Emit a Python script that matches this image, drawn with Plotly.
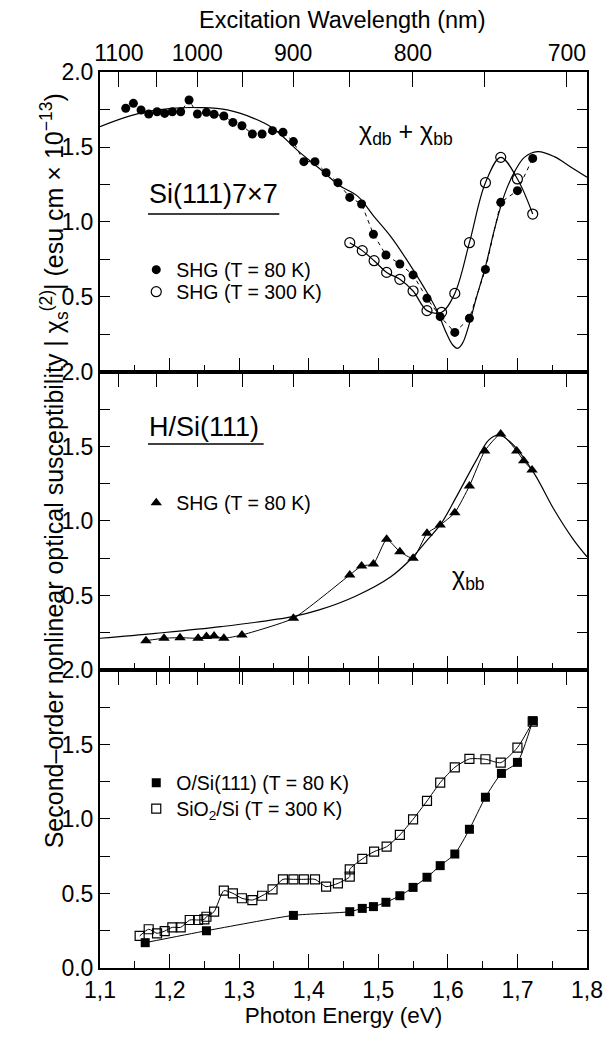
import plotly.graph_objects as go

FONT = "Liberation Sans, Arial, sans-serif"

# ---------------- data: top panel, Si(111)7x7 ----------------
si77_80K_E = [1.137, 1.148, 1.159, 1.170, 1.182, 1.193, 1.204, 1.216, 1.228, 1.240,
              1.253, 1.264, 1.278, 1.291, 1.304, 1.319, 1.333, 1.348, 1.363, 1.378,
              1.393, 1.409, 1.425, 1.442, 1.459, 1.476, 1.493, 1.511, 1.531, 1.550,
              1.570, 1.589, 1.610, 1.631, 1.654, 1.676, 1.700, 1.722]
si77_80K_val = [1.758, 1.791, 1.747, 1.720, 1.735, 1.724, 1.735, 1.735, 1.813, 1.720,
                1.731, 1.718, 1.707, 1.664, 1.642, 1.587, 1.587, 1.609, 1.598, 1.536,
                1.402, 1.402, 1.329, 1.262, 1.164, 1.120, 0.918, 0.780, 0.720, 0.647,
                0.491, 0.369, 0.264, 0.358, 0.684, 1.131, 1.209, 1.424]
si77_300K_E = [1.459, 1.477, 1.494, 1.512, 1.531, 1.550, 1.570, 1.591, 1.610, 1.631,
               1.654, 1.676, 1.700, 1.722]
si77_300K_val = [0.862, 0.809, 0.742, 0.664, 0.618, 0.540, 0.409, 0.398, 0.524, 0.862,
                 1.262, 1.431, 1.287, 1.053]
model_dbbb_E = [1.100, 1.156, 1.203, 1.246, 1.283, 1.321, 1.349, 1.386, 1.415, 1.443,
                1.471, 1.494, 1.518, 1.541, 1.565, 1.584, 1.598, 1.607, 1.614, 1.621,
                1.631, 1.640, 1.654, 1.668, 1.682, 1.696, 1.710, 1.729, 1.753, 1.776, 1.800]
model_dbbb_val = [1.636, 1.724, 1.758, 1.762, 1.747, 1.691, 1.624, 1.469, 1.358, 1.247,
                  1.169, 1.036, 0.902, 0.747, 0.569, 0.413, 0.258, 0.180, 0.158, 0.191,
                  0.324, 0.480, 0.702, 0.969, 1.191, 1.336, 1.431, 1.469, 1.436, 1.369, 1.298]

# ---------------- data: middle panel, H/Si(111) ----------------
hsi_80K_E = [1.166, 1.192, 1.215, 1.241, 1.253, 1.264, 1.278, 1.304, 1.378, 1.459,
             1.476, 1.493, 1.512, 1.531, 1.550, 1.570, 1.589, 1.610, 1.631, 1.653,
             1.676, 1.699, 1.709, 1.721]
hsi_80K_val = [0.197, 0.213, 0.217, 0.213, 0.224, 0.228, 0.213, 0.235, 0.347, 0.638,
               0.698, 0.711, 0.877, 0.794, 0.750, 0.917, 0.973, 1.056, 1.235, 1.470,
               1.584, 1.470, 1.405, 1.342]
model_bb_E = [1.100, 1.180, 1.274, 1.377, 1.415, 1.468, 1.518, 1.548, 1.570, 1.590,
              1.612, 1.640, 1.659, 1.673, 1.692, 1.724, 1.753, 1.781, 1.800]
model_bb_val = [0.213, 0.246, 0.291, 0.358, 0.403, 0.497, 0.626, 0.750, 0.870, 0.980,
                1.160, 1.400, 1.544, 1.577, 1.521, 1.320, 1.074, 0.872, 0.760]

# ---------------- data: bottom panel, oxidized surfaces ----------------
osi_80K_E = [1.165, 1.253, 1.378, 1.459, 1.477, 1.493, 1.511, 1.531, 1.550, 1.570,
             1.589, 1.610, 1.631, 1.654, 1.677, 1.700, 1.722]
osi_80K_val = [0.170, 0.250, 0.353, 0.378, 0.400, 0.412, 0.441, 0.485, 0.541, 0.609,
               0.687, 0.765, 0.931, 1.146, 1.306, 1.380, 1.660]
sio2_300K_E = [1.157, 1.170, 1.182, 1.193, 1.204, 1.216, 1.229, 1.241, 1.250, 1.253,
               1.264, 1.278, 1.291, 1.304, 1.319, 1.333, 1.348, 1.363, 1.378, 1.393,
               1.409, 1.425, 1.442, 1.459, 1.459, 1.477, 1.494, 1.512, 1.531, 1.550,
               1.570, 1.589, 1.610, 1.631, 1.654, 1.676, 1.700, 1.722]
sio2_300K_val = [0.215, 0.260, 0.233, 0.248, 0.273, 0.273, 0.322, 0.322, 0.327, 0.344,
                 0.378, 0.519, 0.501, 0.468, 0.456, 0.485, 0.528, 0.595, 0.595, 0.595,
                 0.595, 0.546, 0.568, 0.613, 0.662, 0.732, 0.781, 0.814, 0.893, 0.998,
                 1.121, 1.244, 1.347, 1.403, 1.401, 1.378, 1.479, 1.653]

# ---------------- ticks ----------------
energy_ticks = [1.1, 1.2, 1.3, 1.4, 1.5, 1.6, 1.7, 1.8]
energy_ticktext = ["1,1", "1,2", "1,3", "1,4", "1,5", "1,6", "1,7", "1,8"]
wavelength_ticks_nm = [1100, 1050, 1000, 950, 900, 850, 800, 750, 700]
wavelength_ticktext = ["1100", "", "1000", "", "900", "", "800", "", "700"]
y_ticks = [0.0, 0.25, 0.5, 0.75, 1.0, 1.25, 1.5, 1.75, 2.0]
y_ticktext_upper = ["", "", "0.5", "", "1.0", "", "1.5", "", "2.0"]
y_ticktext_bottom = ["0.0", "", "0.5", "", "1.0", "", "1.5", "", "2.0"]

HC = 1239.84  # eV nm, converts wavelength to photon energy
wavelength_tickpos = [HC / w for w in wavelength_ticks_nm]

fig = go.Figure()
LW = 1.2
BLACK = "black"

# top panel (x3, y3)
fig.add_trace(go.Scatter(x=model_dbbb_E, y=model_dbbb_val, mode="lines",
                         line=dict(color=BLACK, width=LW, shape="spline"),
                         xaxis="x3", yaxis="y3", showlegend=False))
fig.add_trace(go.Scatter(x=si77_80K_E, y=si77_80K_val, mode="lines",
                         line=dict(color=BLACK, width=1, dash="4px,4px"),
                         xaxis="x3", yaxis="y3", showlegend=False))
fig.add_trace(go.Scatter(x=si77_300K_E, y=si77_300K_val, mode="lines",
                         line=dict(color=BLACK, width=LW, shape="spline"),
                         xaxis="x3", yaxis="y3", showlegend=False))
fig.add_trace(go.Scatter(x=si77_80K_E, y=si77_80K_val, mode="markers",
                         marker=dict(symbol="circle", size=9, color=BLACK),
                         name="SHG (T = 80 K)", legend="legend",
                         xaxis="x3", yaxis="y3"))
fig.add_trace(go.Scatter(x=si77_300K_E, y=si77_300K_val, mode="markers",
                         marker=dict(symbol="circle-open", size=10, color=BLACK,
                                     line=dict(width=1.2)),
                         name="SHG (T = 300 K)", legend="legend2",
                         xaxis="x3", yaxis="y3"))

# middle panel (x2, y2)
fig.add_trace(go.Scatter(x=model_bb_E, y=model_bb_val, mode="lines",
                         line=dict(color=BLACK, width=LW, shape="spline"),
                         xaxis="x2", yaxis="y2", showlegend=False))
fig.add_trace(go.Scatter(x=hsi_80K_E, y=hsi_80K_val, mode="lines",
                         line=dict(color=BLACK, width=1, shape="spline", smoothing=0.5),
                         xaxis="x2", yaxis="y2", showlegend=False))
fig.add_trace(go.Scatter(x=hsi_80K_E, y=hsi_80K_val, mode="markers",
                         marker=dict(symbol="triangle-up", size=10, color=BLACK),
                         name="SHG (T = 80 K)", legend="legend3",
                         xaxis="x2", yaxis="y2"))

# bottom panel (x, y)
fig.add_trace(go.Scatter(x=osi_80K_E, y=osi_80K_val, mode="lines",
                         line=dict(color=BLACK, width=1, shape="spline", smoothing=0.6),
                         xaxis="x", yaxis="y", showlegend=False))
fig.add_trace(go.Scatter(x=sio2_300K_E, y=sio2_300K_val, mode="lines",
                         line=dict(color=BLACK, width=1, shape="spline", smoothing=0.6),
                         xaxis="x", yaxis="y", showlegend=False))
fig.add_trace(go.Scatter(x=osi_80K_E, y=osi_80K_val, mode="markers",
                         marker=dict(symbol="square", size=9, color=BLACK),
                         name="O/Si(111) (T = 80 K)", legend="legend4",
                         xaxis="x", yaxis="y"))
fig.add_trace(go.Scatter(x=sio2_300K_E, y=sio2_300K_val, mode="markers",
                         marker=dict(symbol="square-open", size=9, color=BLACK,
                                     line=dict(width=1.2)),
                         name="SiO<sub>2</sub>/Si (T = 300 K)", legend="legend5",
                         xaxis="x", yaxis="y"))

# empty placeholder traces so the overlaid tick axes get their own subplots
for xa, ya in [("x4", "y3"), ("x5", "y2"), ("x6", "y"), ("x7", "y")]:
    fig.add_trace(go.Scatter(x=[], y=[], xaxis=xa, yaxis=ya, showlegend=False,
                             hoverinfo="skip"))

TICKFONT = dict(family=FONT, size=23, color=BLACK)
XR = [1.1, 1.8]
D_BOT = [0.0, 0.3326]
D_MID = [0.3326, 0.6652]
D_TOP = [0.6652, 1.0]


def energy_axis(anchor, labels):
    return dict(range=XR, anchor=anchor, tickmode="array", tickvals=energy_ticks,
                ticktext=energy_ticktext, showticklabels=labels, ticks="inside",
                ticklen=14, tickwidth=1.2, tickcolor=BLACK, showline=True,
                linecolor=BLACK, linewidth=2, showgrid=False, zeroline=False,
                tickfont=TICKFONT,
                minor=dict(dtick=0.05, tick0=1.1, ticks="inside", ticklen=7,
                           tickwidth=1.2, tickcolor=BLACK, showgrid=False))


def wl_axis(anchor, labels, overlay):
    return dict(range=XR, anchor=anchor, overlaying=overlay, side="top",
                tickmode="array", tickvals=wavelength_tickpos,
                ticktext=wavelength_ticktext, showticklabels=labels,
                ticks="inside", ticklen=15, tickwidth=1.2, tickcolor=BLACK,
                showline=True, linecolor=BLACK, linewidth=2, showgrid=False,
                zeroline=False, tickfont=TICKFONT)


def y_axis(domain, anchor, text):
    return dict(range=[0, 2], domain=domain, anchor=anchor, tickmode="array",
                tickvals=y_ticks, ticktext=text, ticks="inside", ticklen=10,
                tickwidth=1.2, tickcolor=BLACK, showline=True, linecolor=BLACK,
                linewidth=2, mirror="ticks", showgrid=False, zeroline=False,
                tickfont=TICKFONT)


def legend_at(xp, yp):
    return dict(x=(xp - 100) / 497.0, y=(968 - yp) / 896.0, xanchor="left",
                yanchor="middle", bgcolor="rgba(0,0,0,0)", borderwidth=0,
                font=dict(family=FONT, size=19.5, color=BLACK), itemsizing="trace",
                itemwidth=30)


layout = dict(
    width=615, height=1044,
    margin=dict(l=100, r=18, t=72, b=76),
    paper_bgcolor="white", plot_bgcolor="white",
    font=dict(family=FONT, color=BLACK),
    xaxis=energy_axis("y", True),
    xaxis2=energy_axis("y2", False),
    xaxis3=energy_axis("y3", False),
    xaxis4=wl_axis("y3", True, "x3"),
    xaxis5=wl_axis("y2", False, "x2"),
    xaxis6=wl_axis("y", False, "x"),
    xaxis7=dict(range=XR, anchor="y", overlaying="x", side="top", tickmode="array",
                tickvals=energy_ticks, showticklabels=False, ticks="inside",
                ticklen=14, tickwidth=1.2, tickcolor=BLACK, showline=False,
                showgrid=False, zeroline=False),
    yaxis=y_axis(D_BOT, "x", y_ticktext_bottom),
    yaxis2=y_axis(D_MID, "x2", y_ticktext_upper),
    yaxis3=y_axis(D_TOP, "x3", y_ticktext_upper),
    legend=legend_at(137, 270),
    legend2=legend_at(137, 292),
    legend3=legend_at(137, 503),
    legend4=legend_at(137, 783),
    legend5=legend_at(137, 809),
)
layout["xaxis"]["title"] = dict(text="Photon Energy (eV)",
                                font=dict(family=FONT, size=22.5), standoff=4)
fig.update_layout(**layout)

fig.add_annotation(text="Excitation Wavelength (nm)", xref="paper", yref="paper",
                   x=(347 - 100) / 497.0, y=(968 - 20) / 896.0, showarrow=False,
                   yanchor="middle", font=dict(family=FONT, size=23.5, color=BLACK))
fig.add_annotation(text="Second\u2013order nonlinear optical susceptibility | \u03c7<sub>s</sub><sup>(2)</sup>| (esu cm \u00d7 10<sup>\u221213</sup>)",
                   xref="paper", yref="paper", x=(33 - 100) / 497.0, y=(968 - 471) / 896.0,
                   textangle=-90, showarrow=False, font=dict(family=FONT, size=25, color=BLACK))
fig.add_annotation(text="Si(111)7\u00d77", xref="x3 domain", yref="y3 domain",
                   x=(148 - 100) / 497.0, y=(372 - 194) / 300.0, xanchor="left",
                   yanchor="middle", showarrow=False,
                   font=dict(family=FONT, size=27, color=BLACK))
fig.add_annotation(text="H/Si(111)", xref="x2 domain", yref="y2 domain",
                   x=(148 - 100) / 497.0, y=(670 - 427) / 298.0, xanchor="left",
                   yanchor="middle", showarrow=False,
                   font=dict(family=FONT, size=27, color=BLACK))
fig.add_annotation(text="\u03c7<sub>db</sub> + \u03c7<sub>bb</sub>", xref="x3 domain",
                   yref="y3 domain", x=(412 - 100) / 497.0, y=(372 - 133) / 300.0,
                   yanchor="middle", showarrow=False,
                   font=dict(family=FONT, size=25, color=BLACK))
fig.add_annotation(text="\u03c7<sub>bb</sub>", xref="x2 domain", yref="y2 domain",
                   x=(495 - 100) / 497.0, y=(670 - 578) / 298.0, yanchor="middle",
                   showarrow=False, font=dict(family=FONT, size=25, color=BLACK))

# underlines of the panel labels
fig.add_shape(type="line", xref="x3 domain", yref="y3 domain",
              x0=(149 - 100) / 497.0, x1=(283 - 100) / 497.0,
              y0=(372 - 214) / 300.0, y1=(372 - 214) / 300.0,
              line=dict(color=BLACK, width=1.5))
fig.add_shape(type="line", xref="x2 domain", yref="y2 domain",
              x0=(149 - 100) / 497.0, x1=(267 - 100) / 497.0,
              y0=(670 - 444) / 298.0, y1=(670 - 444) / 298.0,
              line=dict(color=BLACK, width=1.5))

fig.write_html("out.html")
